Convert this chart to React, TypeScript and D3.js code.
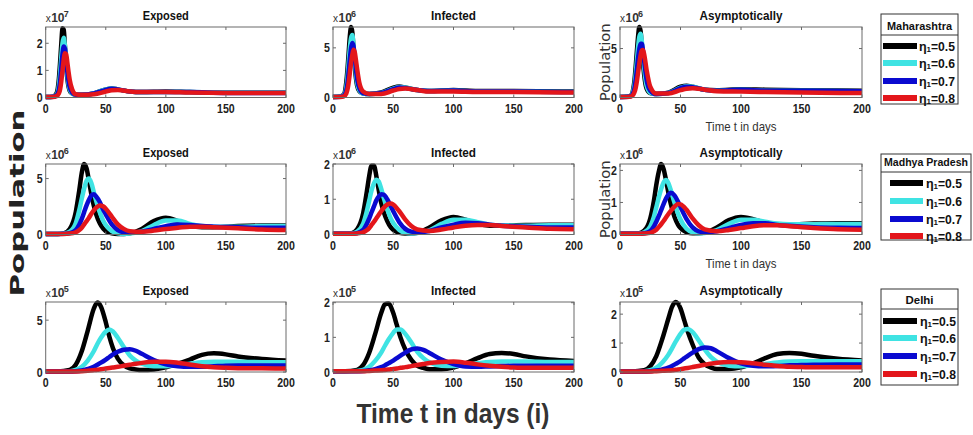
import React from "react";
import * as d3 from "d3";

// ---------------- DATA ----------------
const X_TICKS = [0, 50, 100, 150, 200];
const ETA_VALUES = ["0.5", "0.6", "0.7", "0.8"];
const STATES = ["Maharashtra", "Madhya Pradesh", "Delhi"];
const TITLES = ["Exposed", "Infected", "Asymptotically"];

// Maharashtra
const T_MH = [0, 6, 9, 11, 12, 13, 14, 15, 16, 17, 18, 19, 20, 22, 25, 30, 40, 50, 55, 60, 70, 80, 100, 120, 150, 200];
const mhE05 = [0.02, 0.03, 0.15, 0.7, 1.3, 2.0, 2.55, 2.5, 1.9, 1.2, 0.7, 0.4, 0.25, 0.15, 0.1, 0.1, 0.15, 0.3, 0.33, 0.3, 0.22, 0.2, 0.22, 0.2, 0.18, 0.18];
const mhE06 = [0.02, 0.03, 0.1, 0.45, 0.9, 1.5, 2.0, 2.2, 1.9, 1.35, 0.85, 0.5, 0.3, 0.15, 0.1, 0.1, 0.15, 0.3, 0.33, 0.3, 0.22, 0.2, 0.2, 0.2, 0.18, 0.18];
const mhE07 = [0.02, 0.03, 0.08, 0.3, 0.6, 1.1, 1.6, 1.88, 1.8, 1.4, 0.95, 0.6, 0.38, 0.18, 0.1, 0.1, 0.15, 0.28, 0.32, 0.3, 0.22, 0.2, 0.2, 0.2, 0.17, 0.17];
const mhE08 = [0.02, 0.02, 0.05, 0.15, 0.3, 0.6, 1.0, 1.4, 1.63, 1.6, 1.3, 0.95, 0.65, 0.3, 0.12, 0.1, 0.12, 0.22, 0.27, 0.28, 0.22, 0.2, 0.2, 0.18, 0.17, 0.17];
const mhI05 = [0.05, 0.1, 0.3, 1.5, 2.8, 4.5, 6.2, 7.1, 6.6, 5.0, 3.3, 2.0, 1.2, 0.6, 0.4, 0.35, 0.5, 1.0, 1.1, 1.0, 0.75, 0.65, 0.75, 0.65, 0.65, 0.6];
const mhI06 = [0.05, 0.1, 0.25, 1.0, 2.0, 3.5, 5.0, 6.0, 6.3, 5.3, 3.8, 2.5, 1.5, 0.7, 0.4, 0.35, 0.45, 0.9, 1.05, 1.0, 0.75, 0.65, 0.7, 0.6, 0.6, 0.55];
const mhI07 = [0.05, 0.08, 0.2, 0.7, 1.4, 2.6, 3.9, 5.0, 5.5, 5.2, 4.1, 2.9, 1.9, 0.9, 0.45, 0.35, 0.45, 0.85, 1.0, 0.95, 0.75, 0.65, 0.7, 0.6, 0.6, 0.55];
const mhI08 = [0.05, 0.06, 0.12, 0.4, 0.8, 1.5, 2.5, 3.5, 4.3, 4.8, 4.6, 3.8, 2.9, 1.4, 0.6, 0.35, 0.35, 0.7, 0.85, 0.9, 0.75, 0.6, 0.6, 0.55, 0.55, 0.5];
const mhA05 = [0.05, 0.1, 0.2, 0.9, 1.8, 3.2, 4.8, 6.3, 7.2, 6.8, 5.3, 3.6, 2.3, 0.9, 0.45, 0.35, 0.5, 1.1, 1.2, 1.1, 0.8, 0.75, 0.85, 0.8, 0.75, 0.7];
const mhA06 = [0.05, 0.1, 0.18, 0.7, 1.3, 2.4, 3.8, 5.2, 6.2, 6.5, 5.8, 4.4, 3.0, 1.2, 0.5, 0.35, 0.45, 1.0, 1.15, 1.1, 0.8, 0.7, 0.8, 0.7, 0.7, 0.65];
const mhA07 = [0.05, 0.08, 0.15, 0.5, 0.95, 1.8, 2.9, 4.1, 5.0, 5.5, 5.5, 4.8, 3.7, 1.8, 0.7, 0.35, 0.45, 0.95, 1.1, 1.05, 0.8, 0.7, 0.8, 0.7, 0.7, 0.65];
const mhA08 = [0.05, 0.06, 0.1, 0.3, 0.55, 1.0, 1.7, 2.6, 3.5, 4.3, 4.8, 4.85, 4.4, 2.8, 1.1, 0.4, 0.4, 0.75, 0.9, 0.95, 0.8, 0.65, 0.6, 0.55, 0.5, 0.45];

// Madhya Pradesh
const T_MP = [0, 10, 15, 20, 25, 28, 30, 32, 34, 36, 38, 40, 42, 45, 48, 50, 55, 60, 65, 70, 80, 90, 100, 110, 120, 130, 140, 160, 180, 200];
const mpE05 = [0.05, 0.05, 0.1, 0.5, 2.0, 4.0, 5.5, 6.3, 5.9, 4.8, 3.6, 2.6, 1.8, 1.0, 0.5, 0.3, 0.1, 0.05, 0.05, 0.1, 0.5, 1.2, 1.5, 1.2, 0.8, 0.65, 0.65, 0.75, 0.8, 0.8];
const mpE06 = [0.05, 0.05, 0.08, 0.25, 1.0, 2.2, 3.2, 4.1, 4.8, 5.0, 4.6, 3.8, 3.0, 2.0, 1.2, 0.85, 0.3, 0.1, 0.05, 0.08, 0.3, 0.85, 1.25, 1.25, 0.95, 0.75, 0.7, 0.7, 0.75, 0.75];
const mpE07 = [0.05, 0.05, 0.06, 0.12, 0.4, 0.9, 1.4, 2.0, 2.6, 3.1, 3.5, 3.6, 3.4, 2.9, 2.2, 1.8, 0.9, 0.4, 0.2, 0.15, 0.25, 0.5, 0.75, 0.9, 0.85, 0.75, 0.7, 0.65, 0.6, 0.6];
const mpE08 = [0.05, 0.05, 0.05, 0.08, 0.2, 0.4, 0.6, 0.9, 1.2, 1.5, 1.85, 2.15, 2.4, 2.6, 2.5, 2.3, 1.6, 0.9, 0.5, 0.3, 0.25, 0.35, 0.5, 0.6, 0.7, 0.7, 0.65, 0.55, 0.45, 0.4];
const mpI05 = [0.02, 0.02, 0.03, 0.15, 0.6, 1.2, 1.65, 1.95, 1.95, 1.65, 1.25, 0.9, 0.65, 0.38, 0.2, 0.13, 0.05, 0.03, 0.03, 0.05, 0.2, 0.4, 0.5, 0.42, 0.3, 0.25, 0.25, 0.27, 0.28, 0.28];
const mpI06 = [0.02, 0.02, 0.03, 0.08, 0.3, 0.65, 0.95, 1.25, 1.45, 1.55, 1.5, 1.3, 1.05, 0.72, 0.45, 0.33, 0.13, 0.05, 0.03, 0.04, 0.12, 0.3, 0.42, 0.42, 0.35, 0.28, 0.26, 0.25, 0.26, 0.26];
const mpI07 = [0.02, 0.02, 0.02, 0.04, 0.13, 0.3, 0.45, 0.63, 0.8, 0.97, 1.08, 1.14, 1.13, 1.0, 0.8, 0.66, 0.35, 0.16, 0.08, 0.06, 0.1, 0.2, 0.28, 0.33, 0.32, 0.28, 0.25, 0.22, 0.2, 0.2];
const mpI08 = [0.02, 0.02, 0.02, 0.03, 0.06, 0.12, 0.18, 0.27, 0.36, 0.46, 0.56, 0.66, 0.75, 0.85, 0.88, 0.85, 0.66, 0.42, 0.24, 0.14, 0.1, 0.14, 0.2, 0.25, 0.27, 0.27, 0.24, 0.2, 0.16, 0.15];
const mpA05 = [0.02, 0.02, 0.03, 0.12, 0.5, 1.05, 1.55, 1.95, 2.2, 2.05, 1.7, 1.3, 0.95, 0.55, 0.3, 0.2, 0.07, 0.04, 0.04, 0.06, 0.22, 0.45, 0.55, 0.48, 0.36, 0.32, 0.32, 0.34, 0.35, 0.35];
const mpA06 = [0.02, 0.02, 0.03, 0.07, 0.25, 0.55, 0.85, 1.15, 1.42, 1.62, 1.7, 1.6, 1.38, 1.0, 0.65, 0.47, 0.18, 0.07, 0.04, 0.05, 0.14, 0.33, 0.46, 0.46, 0.4, 0.34, 0.32, 0.32, 0.33, 0.33];
const mpA07 = [0.02, 0.02, 0.02, 0.04, 0.11, 0.25, 0.4, 0.57, 0.76, 0.95, 1.12, 1.24, 1.3, 1.22, 1.02, 0.86, 0.48, 0.22, 0.1, 0.07, 0.1, 0.2, 0.3, 0.35, 0.35, 0.3, 0.27, 0.23, 0.21, 0.2];
const mpA08 = [0.02, 0.02, 0.02, 0.03, 0.05, 0.1, 0.15, 0.23, 0.32, 0.42, 0.53, 0.64, 0.74, 0.87, 0.95, 0.94, 0.77, 0.5, 0.29, 0.16, 0.1, 0.14, 0.2, 0.26, 0.29, 0.29, 0.26, 0.2, 0.16, 0.15];

// Delhi
const T_DL = [0, 10, 20, 25, 30, 35, 40, 43, 46, 50, 53, 56, 60, 65, 70, 75, 80, 90, 100, 110, 120, 130, 140, 150, 160, 180, 200];
const dlE05 = [0.05, 0.05, 0.2, 0.7, 2.0, 4.0, 6.1, 6.7, 6.3, 4.8, 3.4, 2.3, 1.3, 0.65, 0.35, 0.25, 0.2, 0.25, 0.45, 0.8, 1.2, 1.65, 1.8, 1.7, 1.5, 1.25, 1.1];
const dlE06 = [0.05, 0.05, 0.08, 0.2, 0.5, 1.1, 2.0, 2.7, 3.3, 3.9, 4.1, 3.9, 3.3, 2.4, 1.6, 1.1, 0.8, 0.55, 0.55, 0.65, 0.8, 0.95, 1.0, 1.0, 1.0, 0.95, 0.95];
const dlE07 = [0.05, 0.05, 0.05, 0.08, 0.15, 0.3, 0.5, 0.7, 0.9, 1.2, 1.45, 1.7, 1.95, 2.15, 2.2, 2.05, 1.75, 1.15, 0.75, 0.55, 0.5, 0.5, 0.55, 0.6, 0.62, 0.62, 0.62];
const dlE08 = [0.05, 0.05, 0.05, 0.06, 0.08, 0.12, 0.18, 0.22, 0.27, 0.33, 0.38, 0.43, 0.5, 0.6, 0.7, 0.8, 0.88, 0.98, 1.0, 0.9, 0.72, 0.55, 0.45, 0.4, 0.37, 0.35, 0.33];
const dlI05 = [0.02, 0.02, 0.06, 0.2, 0.55, 1.1, 1.7, 1.95, 1.98, 1.7, 1.35, 1.0, 0.65, 0.35, 0.18, 0.12, 0.08, 0.08, 0.13, 0.25, 0.4, 0.52, 0.55, 0.52, 0.45, 0.36, 0.32];
const dlI06 = [0.02, 0.02, 0.03, 0.06, 0.15, 0.32, 0.56, 0.75, 0.93, 1.13, 1.23, 1.23, 1.1, 0.85, 0.58, 0.4, 0.28, 0.18, 0.17, 0.2, 0.25, 0.29, 0.3, 0.3, 0.3, 0.29, 0.29];
const dlI07 = [0.02, 0.02, 0.02, 0.03, 0.05, 0.08, 0.14, 0.19, 0.25, 0.33, 0.4, 0.47, 0.56, 0.65, 0.68, 0.64, 0.55, 0.36, 0.23, 0.16, 0.15, 0.16, 0.17, 0.18, 0.18, 0.18, 0.18];
const dlI08 = [0.02, 0.02, 0.02, 0.02, 0.03, 0.04, 0.05, 0.06, 0.07, 0.09, 0.1, 0.12, 0.14, 0.17, 0.2, 0.23, 0.26, 0.29, 0.3, 0.27, 0.22, 0.18, 0.15, 0.13, 0.12, 0.12, 0.12];
const dlA05 = [0.02, 0.02, 0.06, 0.2, 0.55, 1.15, 1.85, 2.25, 2.42, 2.2, 1.8, 1.4, 0.95, 0.5, 0.27, 0.16, 0.1, 0.1, 0.16, 0.3, 0.48, 0.62, 0.66, 0.63, 0.56, 0.46, 0.4];
const dlA06 = [0.02, 0.02, 0.03, 0.06, 0.15, 0.33, 0.6, 0.82, 1.05, 1.32, 1.46, 1.49, 1.38, 1.1, 0.78, 0.52, 0.36, 0.22, 0.2, 0.23, 0.28, 0.33, 0.36, 0.37, 0.37, 0.37, 0.37];
const dlA07 = [0.02, 0.02, 0.02, 0.03, 0.05, 0.09, 0.15, 0.21, 0.28, 0.38, 0.47, 0.56, 0.67, 0.79, 0.85, 0.82, 0.72, 0.48, 0.3, 0.22, 0.2, 0.21, 0.23, 0.24, 0.25, 0.26, 0.26];
const dlA08 = [0.02, 0.02, 0.02, 0.02, 0.03, 0.04, 0.05, 0.06, 0.08, 0.1, 0.12, 0.14, 0.17, 0.21, 0.25, 0.29, 0.32, 0.35, 0.34, 0.3, 0.25, 0.21, 0.18, 0.17, 0.16, 0.16, 0.16];

// axis limits / ticks / exponents per panel (row-major)
const Y_MAX = [2.6, 7.1, 7.2, 6.3, 2.0, 2.2, 6.75, 2.02, 2.42];
const Y_TICKS = [[0, 1, 2], [0, 5], [0, 5], [0, 5], [0, 1, 2], [0, 1, 2], [0, 5], [0, 1, 2], [0, 1, 2]];
const Y_EXP = [7, 6, 6, 6, 6, 6, 5, 5, 5];

// ---------------- STYLE ----------------
const COLORS = ["#000000", "#3fe3e3", "#0a0ad0", "#e3161b"];
const NARROW = "'Liberation Sans Narrow','Liberation Sans',Arial,sans-serif";
const COLS = [{ x0: 45.7, x1: 286 }, { x0: 333, x1: 574 }, { x0: 620, x1: 862 }];
const ROWS = [{ y0: 27, y1: 97.5 }, { y0: 164, y1: 234.5 }, { y0: 302, y1: 372 }];
const TITLE_W = [46, 45, 83];
const LEGENDS = [
  { x0: 881, x1: 958, y0: 14, y1: 104, sep: 35, ty: 25, tw: 65, ey: [46, 63, 81, 98], lx0: 883, lx1: 917, tx: 919 },
  { x0: 881, x1: 971, y0: 154, y1: 240, sep: 172, ty: 161, tw: 84, ey: [183, 201, 219, 236], lx0: 890, lx1: 923, tx: 926 },
  { x0: 881, x1: 958, y0: 289, y1: 385, sep: 309, ty: 299, tw: 28, ey: [321, 338, 356, 374], lx0: 883, lx1: 917, tx: 920 },
];
const DIGIT_W = 5.9;

const DATA: { T: number[]; s: number[][][] }[] = [
  { T: T_MH, s: [[mhE05, mhE06, mhE07, mhE08], [mhI05, mhI06, mhI07, mhI08], [mhA05, mhA06, mhA07, mhA08]] },
  { T: T_MP, s: [[mpE05, mpE06, mpE07, mpE08], [mpI05, mpI06, mpI07, mpI08], [mpA05, mpA06, mpA07, mpA08]] },
  { T: T_DL, s: [[dlE05, dlE06, dlE07, dlE08], [dlI05, dlI06, dlI07, dlI08], [dlA05, dlA06, dlA07, dlA08]] },
];

function Panel({ r, c }: { r: number; c: number }) {
  const idx = r * 3 + c;
  const { x0, x1 } = COLS[c];
  const { y0, y1 } = ROWS[r];
  const T = DATA[r].T;
  const series = DATA[r].s[c];
  const x = d3.scaleLinear().domain([0, 200]).range([x0, x1]);
  const y = d3.scaleLinear().domain([0, Y_MAX[idx]]).range([y1, y0]);
  const line = d3
    .line<number>()
    .x((_, i) => x(T[i]))
    .y((d) => y(d))
    .curve(d3.curveMonotoneX);
  const axisColor = "#6a6a6a";
  const tl = 3;
  return (
    <g>
      <rect x={x0} y={y0} width={x1 - x0} height={y1 - y0} fill="#fff" />
      {series.map((s, i) => (
        <path key={i} d={line(s) || ""} fill="none" stroke={COLORS[i]} strokeWidth={4.5} strokeLinejoin="round" />
      ))}
      <rect x={x0} y={y0} width={x1 - x0} height={y1 - y0} fill="none" stroke={axisColor} strokeWidth={1} />
      {X_TICKS.map((t) => (
        <g key={"x" + t}>
          <line x1={x(t)} x2={x(t)} y1={y1} y2={y1 - tl} stroke={axisColor} />
          <line x1={x(t)} x2={x(t)} y1={y0} y2={y0 + tl} stroke={axisColor} />
          <text
            x={x(t)}
            y={y1 + 15}
            textAnchor="middle"
            fontFamily={NARROW}
            fontWeight="bold"
            fontSize={13}
            fill="#222"
            textLength={String(t).length * DIGIT_W}
            lengthAdjust="spacingAndGlyphs"
          >
            {t}
          </text>
        </g>
      ))}
      {Y_TICKS[idx].map((t) => (
        <g key={"y" + t}>
          <line x1={x0} x2={x0 + tl} y1={y(t)} y2={y(t)} stroke={axisColor} />
          <line x1={x1} x2={x1 - tl} y1={y(t)} y2={y(t)} stroke={axisColor} />
          <text
            x={x0 - 3}
            y={y(t) + 4.5}
            textAnchor="end"
            fontFamily={NARROW}
            fontWeight="bold"
            fontSize={13}
            fill="#222"
            textLength={String(t).length * DIGIT_W}
            lengthAdjust="spacingAndGlyphs"
          >
            {t}
          </text>
        </g>
      ))}
      <text x={x0} y={y0 - 5} fontFamily={NARROW} fontSize={10} fill="#333">
        x
      </text>
      <text x={x0 + 5.5} y={y0 - 5} fontFamily={NARROW} fontSize={12} fontWeight="bold" fill="#333">
        10
      </text>
      <text x={x0 + 18} y={y0 - 10} fontFamily={NARROW} fontSize={9} fontWeight="bold" fill="#333">
        {Y_EXP[idx]}
      </text>
      <text
        x={(x0 + x1) / 2}
        y={y0 - 7}
        textAnchor="middle"
        fontFamily={NARROW}
        fontWeight="bold"
        fontSize={13.5}
        fill="#111"
        textLength={TITLE_W[c]}
        lengthAdjust="spacingAndGlyphs"
      >
        {TITLES[c]}
      </text>
      {c === 2 && r < 2 && (
        <>
          <text
            transform={`translate(${x0 - 10},${(y0 + y1) / 2}) rotate(-90)`}
            textAnchor="middle"
            fontFamily="'DejaVu Sans',sans-serif"
            fontSize={13.5}
            fill="#333"
            textLength={78}
            lengthAdjust="spacingAndGlyphs"
          >
            Population
          </text>
          <text
            x={(x0 + x1) / 2}
            y={y1 + 33}
            textAnchor="middle"
            fontFamily={NARROW}
            fontSize={13.5}
            fill="#333"
            textLength={71}
            lengthAdjust="spacingAndGlyphs"
          >
            Time t in days
          </text>
        </>
      )}
    </g>
  );
}

function Legend({ r }: { r: number }) {
  const L = LEGENDS[r];
  return (
    <g>
      <rect x={L.x0} y={L.y0} width={L.x1 - L.x0} height={L.y1 - L.y0} fill="#fff" stroke="#333" strokeWidth={1} />
      <line x1={L.x0} x2={L.x1} y1={L.sep} y2={L.sep} stroke="#333" strokeWidth={1} />
      <text
        x={(L.x0 + L.x1) / 2}
        y={L.ty + 4.5}
        textAnchor="middle"
        fontFamily={NARROW}
        fontWeight="bold"
        fontSize={11}
        fill="#111"
        textLength={L.tw}
        lengthAdjust="spacingAndGlyphs"
      >
        {STATES[r]}
      </text>
      {ETA_VALUES.map((v, i) => (
        <g key={v}>
          <line x1={L.lx0} x2={L.lx1} y1={L.ey[i]} y2={L.ey[i]} stroke={COLORS[i]} strokeWidth={6} />
          <text x={L.tx} y={L.ey[i] + 4.5} fontFamily={NARROW} fontWeight="bold" fontSize={12.5} fill="#111">
            η
          </text>
          <text x={L.tx + 7.5} y={L.ey[i] + 6} fontFamily={NARROW} fontWeight="bold" fontSize={8} fill="#111">
            1
          </text>
          <text
            x={L.tx + 12}
            y={L.ey[i] + 4.5}
            fontFamily={NARROW}
            fontWeight="bold"
            fontSize={12.5}
            fill="#111"
            textLength={24}
            lengthAdjust="spacingAndGlyphs"
          >
            ={v}
          </text>
        </g>
      ))}
    </g>
  );
}

export default function App() {
  return (
    <svg width={973} height={435} style={{ position: "absolute", left: 0, top: 0, background: "#fff" }}>
      <rect x={0} y={0} width={973} height={435} fill="#fff" />
      {[0, 1, 2].map((r) => [0, 1, 2].map((c) => <Panel key={r + "-" + c} r={r} c={c} />))}
      {[0, 1, 2].map((r) => (
        <Legend key={r} r={r} />
      ))}
      <text
        transform="translate(24,203) rotate(-90)"
        textAnchor="middle"
        fontFamily="'DejaVu Sans',sans-serif"
        fontWeight="bold"
        fontSize={20}
        fill="#222"
        textLength={187}
        lengthAdjust="spacingAndGlyphs"
      >
        Population
      </text>
      <text
        x={453}
        y={423}
        textAnchor="middle"
        fontFamily={NARROW}
        fontWeight="bold"
        fontSize={27}
        fill="#333"
        textLength={193}
        lengthAdjust="spacingAndGlyphs"
      >
        Time t in days (i)
      </text>
    </svg>
  );
}
